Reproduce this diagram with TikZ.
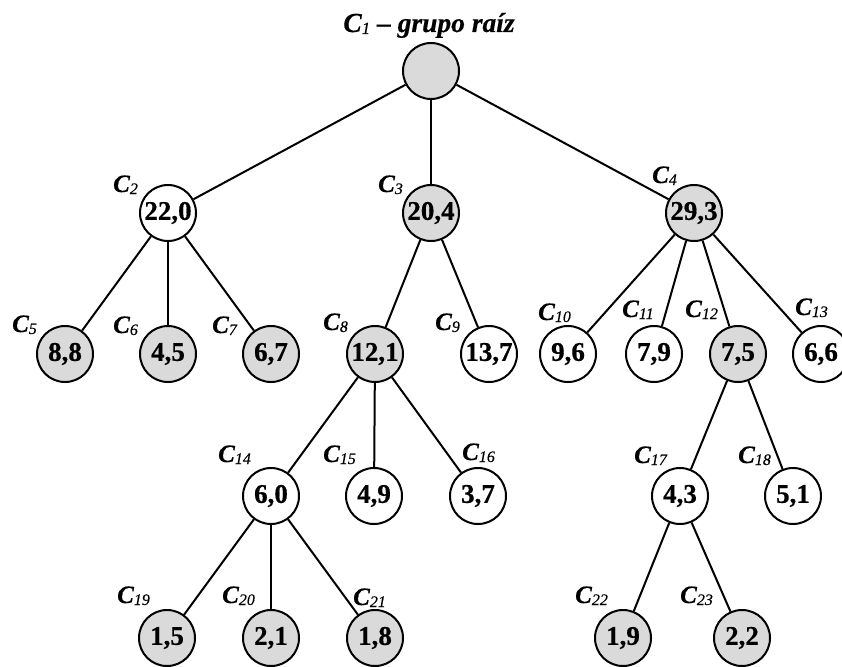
\documentclass[tikz,border=0pt]{standalone}
\usepackage{fontspec}
\setmainfont{Liberation Serif}
\newfontface\numfont[FakeBold=0.6,Ligatures=TeX]{Liberation Serif Bold}
\newfontface\labfont[FakeBold=0.5,Ligatures=TeX]{Liberation Serif Bold Italic}
\newfontface\subfont[FakeBold=0.4]{Liberation Serif Italic}
\definecolor{selgray}{RGB}{218,218,218}
\tikzset{
  grp/.style={circle, draw, line width=2pt, minimum size=56pt, inner sep=0pt, fill=white,
    font=\numfont\fontsize{27}{27}\selectfont},
  sel/.style={grp, fill=selgray},
  clab/.style={anchor=base west, inner sep=0pt, font=\labfont\fontsize{25}{25}\selectfont},
  edge/.style={line width=2pt}
}
\newcommand{\Cl}[1]{C\raisebox{-2pt}{\subfont\fontsize{16}{16}\selectfont #1}}
\begin{document}
\begin{tikzpicture}[x=1pt,y=-1pt]
\useasboundingbox (0,0) rectangle (842,666);
% title
\node[anchor=base, inner sep=0pt, font=\labfont\fontsize{27.5}{27.5}\selectfont] (title) at (429,32)
  {C\raisebox{-2pt}{\subfont\fontsize{17}{17}\selectfont 1} – grupo raíz};
% nodes
\node[sel] (c1) at (431,71) {};
\node[grp] (c2) at (168,213) {22,0};
\node[sel] (c3) at (431,213) {20,4};
\node[sel] (c4) at (694,213) {29,3};
\node[sel] (c5) at (65,354) {8,8};
\node[sel] (c6) at (168,354) {4,5};
\node[sel] (c7) at (271,354) {6,7};
\node[sel] (c8) at (375,354) {12,1};
\node[grp] (c9) at (489,354) {13,7};
\node[grp] (c10) at (568,354) {9,6};
\node[grp] (c11) at (654,354) {7,9};
\node[sel] (c12) at (738,354) {7,5};
\node[grp] (c13) at (821,354) {6,6};
\node[grp] (c14) at (271,496) {6,0};
\node[grp] (c15) at (374,496) {4,9};
\node[grp] (c16) at (478,496) {3,7};
\node[grp] (c17) at (680,496) {4,3};
\node[grp] (c18) at (793,496) {5,1};
\node[sel] (c19) at (167,638) {1,5};
\node[sel] (c20) at (271,638) {2,1};
\node[sel] (c21) at (375,638) {1,8};
\node[sel] (c22) at (623,638) {1,9};
\node[sel] (c23) at (742,638) {2,2};
% edges
\foreach \a/\b in {c1/c2,c1/c3,c1/c4,c2/c5,c2/c6,c2/c7,c3/c8,c3/c9,c4/c10,c4/c11,c4/c12,c4/c13,
  c8/c14,c8/c15,c8/c16,c12/c17,c12/c18,c14/c19,c14/c20,c14/c21,c17/c22,c17/c23}
  \draw[edge] (\a) -- (\b);
% labels
\node[clab] (l2) at (113,192) {\Cl{2}};
\node[clab] (l3) at (378,192) {\Cl{3}};
\node[clab] (l4) at (652,183) {\Cl{4}};
\node[clab] (l5) at (12,332) {\Cl{5}};
\node[clab] (l6) at (113,333) {\Cl{6}};
\node[clab] (l7) at (212,333) {\Cl{7}};
\node[clab] (l8) at (323,330) {\Cl{8}};
\node[clab] (l9) at (435,330) {\Cl{9}};
\node[clab] (l10) at (538,320) {\Cl{10}};
\node[clab] (l11) at (622,317) {\Cl{11}};
\node[clab] (l12) at (685,317) {\Cl{12}};
\node[clab] (l13) at (795,315) {\Cl{13}};
\node[clab] (l14) at (218,462) {\Cl{14}};
\node[clab] (l15) at (323,462) {\Cl{15}};
\node[clab] (l16) at (462,460) {\Cl{16}};
\node[clab] (l17) at (634,463) {\Cl{17}};
\node[clab] (l18) at (738,463) {\Cl{18}};
\node[clab] (l19) at (117,603) {\Cl{19}};
\node[clab] (l20) at (222,603) {\Cl{20}};
\node[clab] (l21) at (353,605) {\Cl{21}};
\node[clab] (l22) at (575,603) {\Cl{22}};
\node[clab] (l23) at (680,603) {\Cl{23}};
\end{tikzpicture}
\end{document}
